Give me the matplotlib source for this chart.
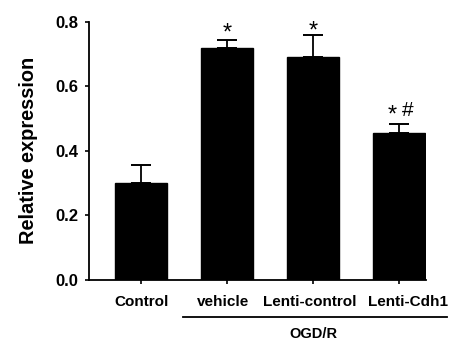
import matplotlib.pyplot as plt
import matplotlib.transforms as mtransforms
import numpy as np

plt.rcParams["font.family"] = ["Liberation Sans", "DejaVu Sans"]

groups = ["Control", "vehicle", "Lenti-control", "Lenti-Cdh1"]
means = [0.299, 0.718, 0.690, 0.456]
errors = [0.057, 0.026, 0.070, 0.027]
ticks_y = [0.0, 0.2, 0.4, 0.6, 0.8]

# significance marks: (bar index, symbol, x shift px, y shift px above cap)
marks = [(1, "*", 0, 6), (2, "*", 0, 3), (3, "*", -7, 8), (3, "#", 9, 13)]
# small horizontal nudges of the group labels, in px
label_shift = [0, -4, -3, 9]

fig = plt.figure(figsize=(4.52, 3.44), dpi=100)
ax = fig.add_axes([0.197, 0.1875, 0.745, 0.749])

x = np.arange(len(groups))
ax.bar(x, means, width=0.6, color="black", edgecolor="black", zorder=2)
ax.errorbar(x, means, yerr=[np.zeros(len(errors)), errors], fmt="none",
            ecolor="black", elinewidth=1.3, capsize=7, capthick=1.4, zorder=1)

for i, s, dx, dy in marks:
    top = means[i] + errors[i]
    ax.annotate(s, xy=(x[i], top), xytext=(dx * 0.72, dy * 0.72),
                textcoords="offset points", ha="center", va="center",
                fontsize=17 if s == "*" else 15, color="black")

ax.set_xlim(-0.605, 3.31)
ax.set_ylim(0, 0.8)
ax.set_yticks(ticks_y)
ax.set_yticklabels(["%.1f" % t for t in ticks_y], fontsize=12, fontweight="bold")
ax.set_xticks(x)
ax.set_xticklabels(groups, fontsize=11, fontweight="bold")
ax.tick_params(axis="x", length=3, width=1.2, pad=8)
ax.tick_params(axis="y", length=3, width=1.2, pad=5)
ax.set_ylabel("Relative expression", fontsize=14.4, fontweight="bold", labelpad=12)

for lbl, dx in zip(ax.get_xticklabels(), label_shift):
    off = mtransforms.ScaledTranslation(dx / 100, 0, fig.dpi_scale_trans)
    lbl.set_transform(lbl.get_transform() + off)

for side in ["top", "right"]:
    ax.spines[side].set_visible(False)
for side in ["left", "bottom"]:
    ax.spines[side].set_linewidth(1.3)

# bracket line and label under the OGD/R groups
trans = ax.get_xaxis_transform()
ax.plot([0.488, 3.56], [-0.146, -0.146], color="black", lw=1.3,
        transform=trans, clip_on=False)
ax.text(2, -0.21, "OGD/R", ha="center", va="center", fontsize=10.5,
        fontweight="bold", transform=trans)

fig.savefig("out.png", dpi=100)
